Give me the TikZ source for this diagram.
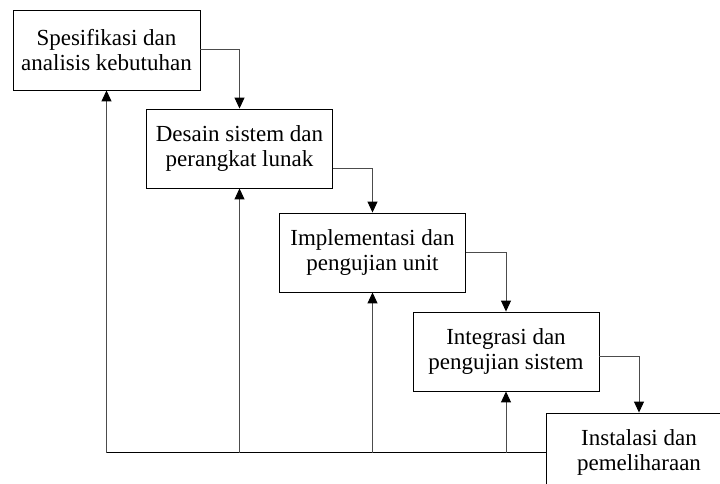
\documentclass[tikz,border=0pt]{standalone}
\usepackage{fontspec}
\setmainfont{Liberation Serif}
\usetikzlibrary{arrows.meta}
\tikzset{
  stepbox/.style={draw=black, line width=0.9pt, fill=white, minimum width=186pt, minimum height=79pt,
    align=center, inner sep=0pt, font=\fontsize{23}{25.5}\selectfont},
  conn/.style={draw=black!70, line width=1pt},
  arr/.style={conn, -{Triangle[length=11pt,width=10pt,color=black]}},
}
\begin{document}
\begin{tikzpicture}[x=1pt,y=-1pt]
\clip (0,0) rectangle (720,484);
\fill[white] (0,0) rectangle (720,484);
\node[stepbox, minimum width=187pt, minimum height=80pt] (b1) at (106.5,50) {Spesifikasi dan\\analisis kebutuhan};
\node[stepbox] (b2) at (239.5,148.5) {Desain sistem dan\\perangkat lunak};
\node[stepbox] (b3) at (372.5,252.5) {Implementasi dan\\pengujian unit};
\node[stepbox] (b4) at (506,351.5) {Integrasi dan\\pengujian sistem};
\node[stepbox] (b5) at (639,452.5) {Instalasi dan\\pemeliharaan};
% forward flow
\draw[arr] (b1.east) -| (b2.north);
\draw[arr] ([yshift=-20pt]b2.east) -| (b3.north);
\draw[arr] (b3.east) -| (b4.north);
\draw[arr] ([yshift=-5pt]b4.east) -| (b5.north);
% feedback
\draw[conn, draw=black] (b5.west) -- (b5.west -| b1.south);
\draw[arr] (b5.west -| b1.south) -- (b1.south);
\draw[arr] (b5.west -| b2.south) -- (b2.south);
\draw[arr] (b5.west -| b3.south) -- (b3.south);
\draw[arr] (b5.west -| b4.south) -- (b4.south);
\end{tikzpicture}
\end{document}
